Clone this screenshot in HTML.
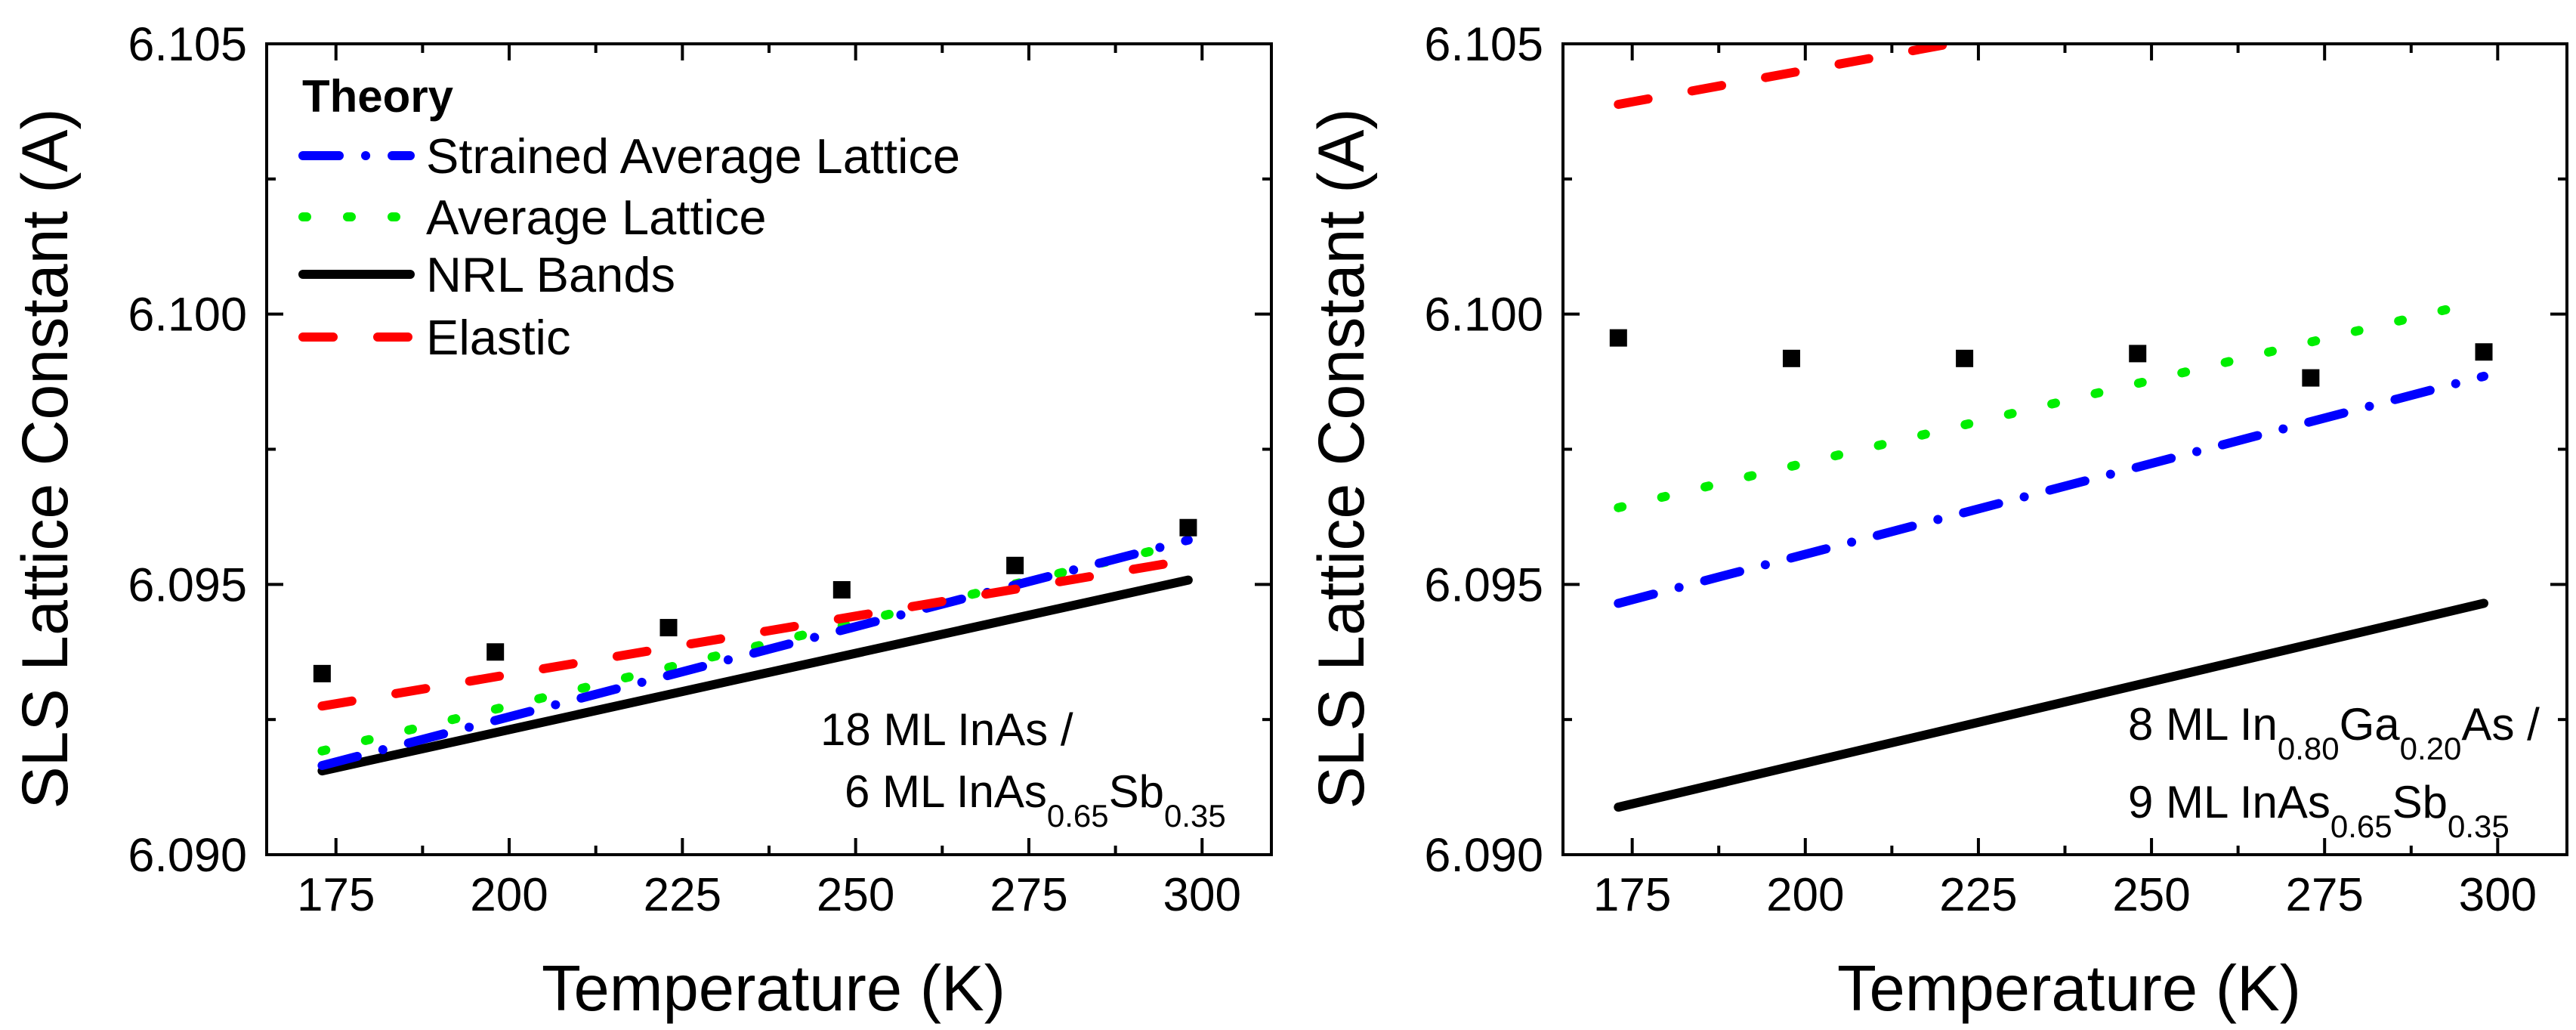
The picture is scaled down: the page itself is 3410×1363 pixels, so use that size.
<!DOCTYPE html>
<html><head><meta charset="utf-8">
<style>
html,body{margin:0;padding:0;background:#fff;}
svg{display:block;font-family:"Liberation Sans",Arial,sans-serif;}
</style></head>
<body>
<svg id="fig" width="3410" height="1363" viewBox="0 0 3410 1363" xmlns="http://www.w3.org/2000/svg"></svg>
<script>
// ---- data ----
const xTicks = [175, 200, 225, 250, 275, 300];
const yTicks = [6.090, 6.095, 6.100, 6.105];
const yTickLabels = ["6.090", "6.095", "6.100", "6.105"];
const pointTemps = [173, 198, 223, 248, 273, 298];
const leftPoints = [6.09335, 6.09375, 6.09420, 6.09490, 6.09535, 6.09605];
const rightPoints = [6.09956, 6.09918, 6.09918, 6.09927, 6.09882, 6.09930];
const lineTemps = [173, 298];
const leftStrained = [6.09165, 6.09582];
const leftAverage = [6.09192, 6.09578];
const leftNRL = [6.09155, 6.09508];
const leftElastic = [6.09275, 6.09545];
const rightStrained = [6.09465, 6.09885];
const rightAverage = [6.09642, 6.10025];
const rightNRL = [6.09088, 6.09465];
const rightElastic = [6.10388, 6.10680];

const NS = "http://www.w3.org/2000/svg";
const svg = document.getElementById("fig");
function mk(tag, attrs, parent) {
  const e = document.createElementNS(NS, tag);
  for (const k in attrs) e.setAttribute(k, attrs[k]);
  (parent || svg).appendChild(e);
  return e;
}
const X0 = 165, X1 = 310, Y0 = 6.090, Y1 = 6.105;
const TOP = 58, BOT = 1131;

const styles = {
  strained: {stroke: "#0000ff", dash: "48 35 0.1 35"},
  average: {stroke: "#00ee00", dash: "5 54"},
  nrl: {stroke: "#000000", dash: "none"},
  elastic: {stroke: "#ff0000", dash: "40 59"}
};

function panel(id, left, right, pts, series, annot, titleX) {
  const g = mk("g", {});
  
  
  const sx = t => left + (t - X0) / (X1 - X0) * (right - left);
  const sy = v => BOT - (v - Y0) / (Y1 - Y0) * (BOT - TOP);
  const clipId = id + "-clip";
  const cp = mk("clipPath", {id: clipId}, g);
  mk("rect", {x: left, y: TOP, width: right - left, height: BOT - TOP}, cp);
  for (const s of series) {
    const st = styles[s.key];
    const d = s.vals.map((v, i) => (i ? "L" : "M") + sx(lineTemps[i]).toFixed(1) + " " + sy(v).toFixed(1)).join(" ");
    const p = mk("path", {d: d, fill: "none", stroke: st.stroke, "stroke-width": 12, "stroke-linecap": "round", "stroke-dasharray": st.dash, "clip-path": "url(#" + clipId + ")"}, g);
    
    
  }
  pts.forEach((v, i) => {
    const r = mk("rect", {x: sx(pointTemps[i]) - 11.5, y: sy(v) - 11.5, width: 23, height: 23, fill: "#000"}, g);
    
    
  });
  const fr = mk("rect", {x: left, y: TOP, width: right - left, height: BOT - TOP, fill: "none", stroke: "#000", "stroke-width": 4}, g);
  
  
  for (let t = 175; t <= 300; t += 12.5) {
    const major = (t % 25 === 0);
    const L = major ? 22 : 12;
    mk("line", {x1: sx(t), y1: BOT, x2: sx(t), y2: BOT - L, stroke: "#000", "stroke-width": 4}, g);
    mk("line", {x1: sx(t), y1: TOP, x2: sx(t), y2: TOP + L, stroke: "#000", "stroke-width": 4}, g);
  }
  xTicks.forEach(t => {
    const tx = mk("text", {x: sx(t), y: 1205, "font-size": 62, "text-anchor": "middle", fill: "#000"}, g);
    tx.textContent = t;
    
    
  });
  for (let k = 0; k <= 6; k++) {
    const v = Y0 + k * 0.0025;
    const major = (k % 2 === 0);
    const L = major ? 22 : 12;
    mk("line", {x1: left, y1: sy(v), x2: left + L, y2: sy(v), stroke: "#000", "stroke-width": 4}, g);
    mk("line", {x1: right, y1: sy(v), x2: right - L, y2: sy(v), stroke: "#000", "stroke-width": 4}, g);
  }
  yTicks.forEach((v, i) => {
    const tx = mk("text", {x: left - 26, y: sy(v) + 22, "font-size": 63, "text-anchor": "end", fill: "#000"}, g);
    tx.textContent = yTickLabels[i];
    
    
  });
  const xt = mk("text", {x: titleX, y: 1337, "font-size": 85, "text-anchor": "middle", fill: "#000"}, g);
  xt.textContent = "Temperature (K)";
  
  
  const yx = left - 264, yy = 607;
  const yt = mk("text", {x: yx, y: yy, "font-size": 86, "text-anchor": "middle", fill: "#000", transform: "rotate(-90 " + yx + " " + yy + ")", textLength: 927, lengthAdjust: "spacingAndGlyphs"}, g);
  yt.textContent = "SLS Lattice Constant (A)";
  
  
  annot.forEach(a => {
    const tx = mk("text", {x: a.x, y: a.y, "font-size": 60, fill: "#000"}, g);
    
    
    a.parts.forEach(p => {
      const ts = mk("tspan", p.sub ? {"font-size": 42, dy: 26} : {dy: p.back ? -26 : 0}, tx);
      ts.textContent = p.t;
    });
  });
  return g;
}

panel("left-panel", 353, 1683, leftPoints, [
  {key: "nrl", vals: leftNRL},
  {key: "average", vals: leftAverage},
  {key: "strained", vals: leftStrained},
  {key: "elastic", vals: leftElastic}
], [
  {x: 1086, y: 986, parts: [{t: "18 ML InAs /"}]},
  {x: 1118, y: 1068, parts: [{t: "6 ML InAs"}, {t: "0.65", sub: 1}, {t: "Sb", back: 1}, {t: "0.35", sub: 1}]}
], 1024);

panel("right-panel", 2069, 3398, rightPoints, [
  {key: "nrl", vals: rightNRL},
  {key: "average", vals: rightAverage},
  {key: "strained", vals: rightStrained},
  {key: "elastic", vals: rightElastic}
], [
  {x: 2817, y: 979, parts: [{t: "8 ML In"}, {t: "0.80", sub: 1}, {t: "Ga", back: 1}, {t: "0.20", sub: 1}, {t: "As /", back: 1}]},
  {x: 2817, y: 1082, parts: [{t: "9 ML InAs"}, {t: "0.65", sub: 1}, {t: "Sb", back: 1}, {t: "0.35", sub: 1}]}
], 2739);

const lg = mk("g", {});


const th = mk("text", {x: 400, y: 148, "font-size": 60, "font-weight": "bold", fill: "#000"}, lg);
th.textContent = "Theory";


const legendKeys = ["strained", "average", "nrl", "elastic"];
const legendNames = ["Strained Average Lattice", "Average Lattice", "NRL Bands", "Elastic"];
const legendY = [206, 287, 363, 446];
legendKeys.forEach((k, i) => {
  const st = styles[k];
  const ln = mk("line", {x1: 401, y1: legendY[i], x2: 543, y2: legendY[i], stroke: st.stroke, "stroke-width": 12, "stroke-linecap": "round", "stroke-dasharray": st.dash}, lg);
  
  
  const tx = mk("text", {x: 564, y: legendY[i] + 23, "font-size": 65, fill: "#000"}, lg);
  tx.textContent = legendNames[i];
  
  
});
</script>
</body></html>
